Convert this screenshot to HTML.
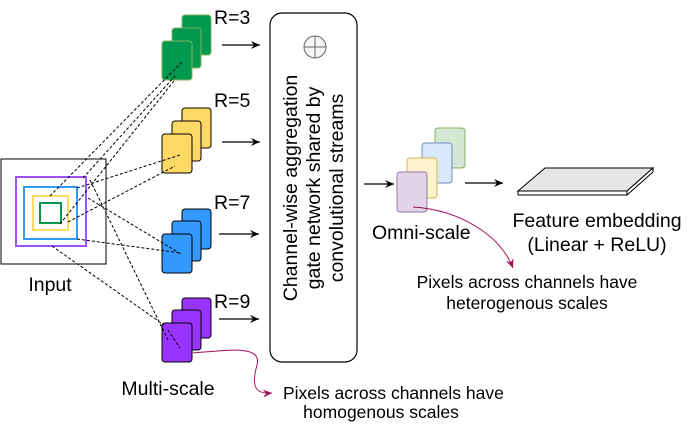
<!DOCTYPE html>
<html><head><meta charset="utf-8"><style>
html,body{margin:0;padding:0;background:#fff;}
svg{display:block;font-family:"Liberation Sans",Arial,sans-serif;}
</style></head><body>
<svg width="690" height="424" viewBox="0 0 690 424" xmlns="http://www.w3.org/2000/svg">
<defs>
<marker id="ab" markerWidth="10" markerHeight="10" refX="9" refY="5" orient="auto" markerUnits="userSpaceOnUse"><path d="M0,1 L9,5 L0,9 L3,5 Z" fill="#000"/></marker>
<marker id="ar" markerWidth="10" markerHeight="10" refX="9" refY="5" orient="auto" markerUnits="userSpaceOnUse"><path d="M0,1 L9,5 L0,9 L3,5 Z" fill="#A50F5A"/></marker>
</defs>
<rect x="1" y="159" width="105" height="105" fill="#fff" stroke="#000" stroke-width="1"/>
<rect x="16" y="177" width="70" height="69" fill="none" stroke="#A050FF" stroke-width="2"/>
<rect x="24" y="187" width="53" height="52" fill="none" stroke="#3399FF" stroke-width="2"/>
<rect x="33" y="196" width="35" height="34" fill="none" stroke="#FFD966" stroke-width="2"/>
<rect x="40" y="203" width="21" height="20" fill="none" stroke="#00994D" stroke-width="2"/>
<text x="50" y="291" font-size="19.5" text-anchor="middle">Input</text>
<g stroke="#000" stroke-width="1">
<rect x="182" y="15" width="29" height="40" rx="3" fill="#00994D" stroke="#82b366"/>
<rect x="172" y="28" width="29" height="40" rx="3" fill="#00994D" stroke="#82b366"/>
<rect x="162" y="41" width="30" height="39" rx="3" fill="#00994D" stroke="#82b366"/>
<rect x="182" y="108" width="29" height="40" rx="3" fill="#FFD966"/>
<rect x="172" y="121" width="29" height="40" rx="3" fill="#FFD966"/>
<rect x="162" y="134" width="30" height="39" rx="3" fill="#FFD966"/>
<rect x="182" y="209" width="29" height="40" rx="3" fill="#3399FF"/>
<rect x="172" y="221" width="29" height="40" rx="3" fill="#3399FF"/>
<rect x="162" y="234" width="30" height="39" rx="3" fill="#3399FF"/>
<rect x="182" y="298" width="29" height="40" rx="3" fill="#9933FF"/>
<rect x="172" y="310" width="29" height="40" rx="3" fill="#9933FF"/>
<rect x="162" y="323" width="30" height="39" rx="3" fill="#9933FF"/>
</g>
<g stroke="#000" stroke-width="1" stroke-dasharray="3,2" fill="none">
<line x1="50" y1="196" x2="182" y2="62"/>
<line x1="60" y1="224" x2="174" y2="81"/>
<line x1="83" y1="178" x2="175" y2="76"/>
<line x1="77" y1="188" x2="180" y2="155"/>
<line x1="68" y1="222" x2="175" y2="166"/>
<line x1="88" y1="198" x2="181" y2="254"/>
<line x1="77" y1="239" x2="181" y2="253"/>
<line x1="52" y1="246" x2="164" y2="325"/>
<line x1="90" y1="180" x2="168" y2="340"/>
<line x1="168" y1="330" x2="180" y2="348"/>
</g>
<g font-size="19.5">
<text x="214" y="24">R=3</text>
<text x="214" y="107">R=5</text>
<text x="214" y="209">R=7</text>
<text x="214" y="308">R=9</text>
</g>
<g stroke="#000" stroke-width="1.2" marker-end="url(#ab)">
<line x1="222" y1="45" x2="260" y2="45"/>
<line x1="222" y1="142" x2="260" y2="142"/>
<line x1="219" y1="234" x2="259" y2="234"/>
<line x1="219" y1="319" x2="259" y2="319"/>
<line x1="364" y1="184" x2="394" y2="184"/>
<line x1="465" y1="183" x2="503" y2="183"/>
</g>
<rect x="270" y="13" width="87" height="349" rx="12" fill="#fff" stroke="#000" stroke-width="1.2"/>
<circle cx="315" cy="47" r="11" fill="#f5f5f5" stroke="#666"/>
<line x1="304" y1="47" x2="326" y2="47" stroke="#666"/><line x1="315" y1="36" x2="315" y2="58" stroke="#666"/>
<g transform="translate(313,188) rotate(-90)" font-size="19.5" text-anchor="middle">
<text x="0" y="-16">Channel-wise aggregation</text>
<text x="0" y="7">gate network shared by</text>
<text x="0" y="30">convolutional streams</text>
</g>
<rect x="435" y="128" width="30" height="40" rx="3" fill="#d5e8d4" stroke="#82b366"/>
<rect x="422" y="143" width="30" height="40" rx="3" fill="#dae8fc" stroke="#6c8ebf"/>
<rect x="407" y="158" width="30" height="40" rx="3" fill="#fff2cc" stroke="#d6b656"/>
<rect x="397" y="172" width="30" height="40" rx="3" fill="#e1d5e7" stroke="#9673a6"/>
<text x="372" y="239" font-size="19.5">Omni-scale</text>
<path d="M518,191 L545,168 L653,168 L627,191 Z" fill="#e6e6e6" stroke="#000"/>
<path d="M518,191 L627,191 L627,195 L518,195 Z" fill="#fff" stroke="#000"/>
<path d="M627,191 L653,168 L653,172 L627,195 Z" fill="#fff" stroke="#000"/>
<text x="597" y="227" font-size="19.5" text-anchor="middle">Feature embedding</text>
<text x="597" y="251" font-size="19.5" text-anchor="middle">(Linear + ReLU)</text>
<path d="M413,207 C460,210 500,235 513,268" fill="none" stroke="#A50F5A" stroke-width="1" marker-end="url(#ar)"/>
<text x="527" y="288" font-size="17.5" text-anchor="middle">Pixels across channels have</text>
<text x="527" y="309" font-size="17.5" text-anchor="middle">heterogenous scales</text>
<path d="M193,353 C230,350 262,345 257,365 C250,390 258,394 272,393" fill="none" stroke="#A50F5A" stroke-width="1" marker-end="url(#ar)"/>
<text x="168" y="395" font-size="19.5" text-anchor="middle">Multi-scale</text>
<text x="283" y="399" font-size="17.5">Pixels across channels have</text>
<text x="381" y="418" font-size="17.5" text-anchor="middle">homogenous scales</text>
</svg>
</body></html>
